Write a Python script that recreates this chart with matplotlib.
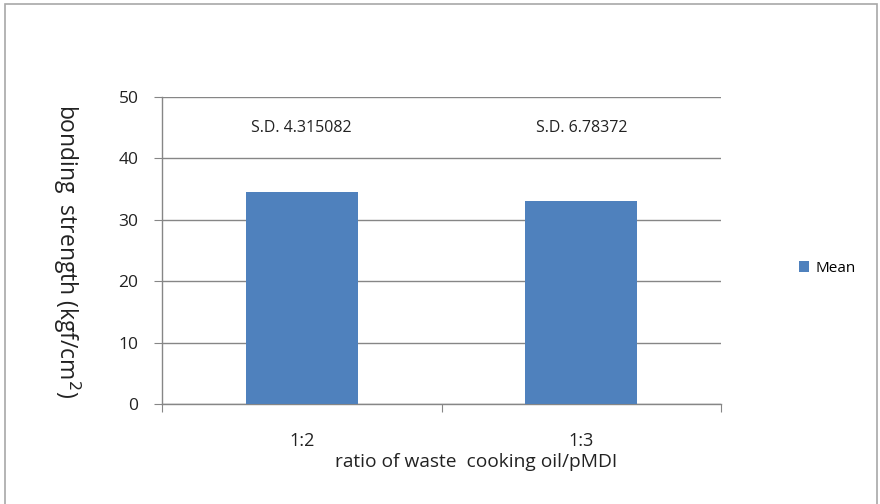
import numpy as np
import matplotlib.pyplot as plt
from matplotlib.patches import Rectangle

plt.rcParams['font.family'] = ['Open Sans', 'DejaVu Sans']

categories = ['1:2', '1:3']
means = [34.6, 33.1]
sd_labels = ['S.D. 4.315082', 'S.D. 6.78372']
sd_label_y = 45.0
yticks = [0, 10, 20, 30, 40, 50]

fig = plt.figure(figsize=(8.8, 5.04), dpi=100)

# outer chart frame
fig.patches.append(Rectangle((5 / 880, -0.05), 872 / 880, 1 - 4 / 504 + 0.05,
                             transform=fig.transFigure, fill=False,
                             edgecolor='#a8a8a8', linewidth=1.2))

ax = fig.add_axes([162 / 880, 1 - 404 / 504, 559 / 880, 307 / 504])

x = np.arange(len(categories))
ax.bar(x, means, width=0.4, color='#4f81bd', zorder=3, label='Mean')

for xi, txt in zip(x, sd_labels):
    ax.text(xi, sd_label_y, txt, ha='center', va='center', fontsize=11.5, color='#222222')

ax.set_xlim(-0.5, len(categories) - 0.5)
ax.set_ylim(0, 50)
ax.set_yticks(yticks)
ax.yaxis.grid(True, color='#868686', linewidth=1.0, zorder=0)

# category ticks sit on the boundaries between groups
ax.set_xticks(np.arange(len(categories) + 1) - 0.5, minor=False)
ax.set_xticklabels([])
ax.set_xticks(x, minor=True)
ax.set_xticklabels(categories, minor=True, fontsize=13, color='#222222')
ax.tick_params(axis='x', which='major', length=6, color='#868686', direction='out')
ax.tick_params(axis='x', which='minor', length=0, pad=20)
ax.tick_params(axis='y', length=6, color='#868686', direction='out', pad=11,
               labelsize=12.5, labelcolor='#222222')

for s in ['top', 'right']:
    ax.spines[s].set_visible(False)
for s in ['left', 'bottom']:
    ax.spines[s].set_color('#868686')
    ax.spines[s].set_linewidth(1.0)

fig.text(476 / 880, 1 - 462 / 504, 'ratio of waste  cooking oil/pMDI',
         ha='center', va='center', fontsize=13.8, color='#222222')
fig.text(67 / 880, 1 - 251 / 504, 'bonding  strength (kgf/cm$^2$)', rotation=-90,
         ha='center', va='center', fontsize=16.5, color='#222222')

ax.legend(loc='center left', bbox_to_anchor=(785 / 880, 1 - 268 / 504),
          bbox_transform=fig.transFigure, frameon=False, fontsize=11,
          handlelength=0.7, handleheight=0.7, handletextpad=0.4)

fig.savefig('out.png', dpi=100)
